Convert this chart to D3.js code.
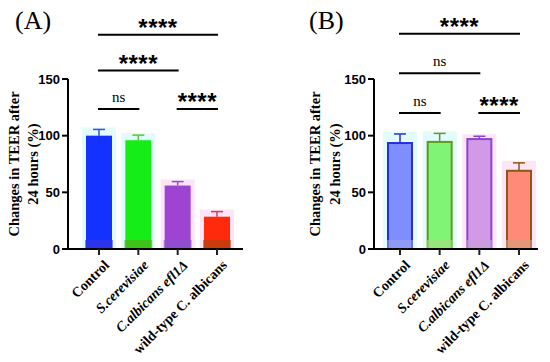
<!DOCTYPE html>
<html>
<head>
<meta charset="utf-8">
<script src="https://cdn.jsdelivr.net/npm/d3@7"></script>
<style>
  html, body { margin: 0; padding: 0; background: #fff; }
  svg { display: block; }
</style>
</head>
<body>
<div id="chart"></div>
<script>
// categories shared by both panels
var categories = ["Control", "S.cerevisiae", "C.albicans efl1\u0394", "wild-type C. albicans"];
var categoryItalic = [false, true, true, false];

// panel A: TEER change, mean and upper error (%)
var meanA = [100, 96, 56, 28.5];
var errA = [105.5, 100.5, 59.5, 33];
// panel B
var meanB = [93.5, 94.5, 97, 69];
var errB = [101.5, 102, 99.5, 76];

var yTicks = [0, 50, 100, 150];

// significance brackets: [from, to, level (axis units), label]
var sigA = [[0, 3, 189, "****"], [0, 2, 157.5, "****"], [0, 1, 123.5, "ns"], [2, 3, 123.5, "****"]];
var sigB = [[0, 3, 190, "****"], [0, 2, 155, "ns"], [0, 1, 120, "ns"], [2, 3, 120, "****"]];

var W = 550, H = 362;
var svg = d3.select("#chart").append("svg").attr("width", W).attr("height", H);

var serif = "'Liberation Serif', 'Times New Roman', serif";
var sans = "'Liberation Sans', Arial, sans-serif";

function panel(opt) {
    var g = svg.append("g");
    var y = d3.scaleLinear().domain([0, 150]).range([249, 79]);
    var x = d3.scalePoint().domain(d3.range(categories.length)).range(opt.xr);

    // panel letter
    g.append("text")
        .attr("x", opt.letterX).attr("y", 29)
        .style("font-family", serif).style("font-size", "26px")
        .text(opt.letter);

    // y label
    var ly = g.append("text")
        .attr("transform", "translate(" + opt.labelX + ",164) rotate(-90)")
        .attr("text-anchor", "middle")
        .style("font-family", serif).style("font-size", "14.5px").style("font-weight", "bold");
    ly.append("tspan").attr("x", 0).attr("dy", 0).text("Changes in TEER after");
    ly.append("tspan").attr("x", 0).attr("dy", 19.5).text("24 hours (%)");

    // halos behind bars
    g.selectAll("rect.halo").data(opt.mean).enter().append("rect")
        .attr("x", function (d, i) { return x(i) - 17; })
        .attr("width", 34)
        .attr("y", function (d, i) { return y(opt.err[i]) - 2; })
        .attr("height", function (d, i) { return y(0) - y(opt.err[i]) + 2; })
        .attr("fill", function (d, i) { return i < 2 ? "#e2fbfd" : "#fde4f7"; });

    var bw = opt.bw;
    // error whiskers
    g.selectAll("line.err").data(opt.mean).enter().append("line")
        .attr("x1", function (d, i) { return x(i); })
        .attr("x2", function (d, i) { return x(i); })
        .attr("y1", function (d) { return y(d); })
        .attr("y2", function (d, i) { return y(opt.err[i]); })
        .attr("stroke", function (d, i) { return opt.stroke[i]; })
        .attr("stroke-width", 1.5);
    g.selectAll("line.cap").data(opt.mean).enter().append("line")
        .attr("x1", function (d, i) { return x(i) - 6; })
        .attr("x2", function (d, i) { return x(i) + 6; })
        .attr("y1", function (d, i) { return y(opt.err[i]); })
        .attr("y2", function (d, i) { return y(opt.err[i]); })
        .attr("stroke", function (d, i) { return opt.stroke[i]; })
        .attr("stroke-width", 1.5);

    // bars
    g.selectAll("rect.bar").data(opt.mean).enter().append("rect")
        .attr("x", function (d, i) { return x(i) - bw / 2; })
        .attr("width", bw)
        .attr("y", function (d) { return y(d); })
        .attr("height", function (d) { return y(0) - y(d); })
        .attr("fill", function (d, i) { return opt.fill[i]; })
        .attr("stroke", function (d, i) { return opt.stroke[i]; })
        .attr("stroke-width", opt.sw);
    // bottom band
    g.selectAll("rect.band").data(opt.mean).enter().append("rect")
        .attr("x", function (d, i) { return x(i) - bw / 2 - 1; })
        .attr("width", bw + 2)
        .attr("y", y(0) - 9)
        .attr("height", 9)
        .attr("fill", function (d, i) { return opt.band[i]; })
        .attr("opacity", 0.6);

    // axes
    g.append("line").attr("x1", opt.ax0).attr("x2", opt.ax0).attr("y1", y(150)).attr("y2", y(0) + 1)
        .attr("stroke", "#000").attr("stroke-width", 2);
    g.append("line").attr("x1", opt.ax0 - 1).attr("x2", opt.ax1).attr("y1", y(0)).attr("y2", y(0))
        .attr("stroke", "#000").attr("stroke-width", 2);
    g.selectAll("line.yt").data(yTicks).enter().append("line")
        .attr("x1", opt.ax0 - 6).attr("x2", opt.ax0)
        .attr("y1", function (d) { return y(d); }).attr("y2", function (d) { return y(d); })
        .attr("stroke", "#000").attr("stroke-width", 2);
    g.selectAll("text.yt").data(yTicks).enter().append("text")
        .attr("x", opt.ax0 - 8).attr("y", function (d) { return y(d); })
        .attr("dy", "0.36em").attr("text-anchor", "end")
        .style("font-family", sans).style("font-size", "13px").style("font-weight", "bold")
        .text(function (d) { return d; });
    g.selectAll("line.xt").data(categories).enter().append("line")
        .attr("x1", function (d, i) { return x(i); }).attr("x2", function (d, i) { return x(i); })
        .attr("y1", y(0)).attr("y2", y(0) + 6)
        .attr("stroke", "#222").attr("stroke-width", 2);
    g.selectAll("text.xt").data(categories).enter().append("text")
        .attr("transform", function (d, i) { return "translate(" + (x(i) + 4) + "," + (y(0) + 10) + ") rotate(-45)"; })
        .attr("text-anchor", "end").attr("dy", "0.7em")
        .style("font-family", serif).style("font-size", "14px").style("font-weight", "bold")
        .style("font-style", function (d, i) { return categoryItalic[i] ? "italic" : "normal"; })
        .text(function (d) { return d; });

    // significance brackets
    opt.sig.forEach(function (s) {
        var ly2 = y(s[2]);
        g.append("line").attr("x1", x(s[0]) - 1).attr("x2", x(s[1]) + 1)
            .attr("y1", ly2).attr("y2", ly2)
            .attr("stroke", "#000").attr("stroke-width", 2);
        var t = g.append("text")
            .attr("x", (x(s[0]) + x(s[1])) / 2)
            .attr("text-anchor", "middle");
        if (s[3] === "ns") {
            t.attr("y", ly2 - 7).style("font-family", serif).style("font-size", "15px");
        } else {
            t.attr("y", ly2 + 1).style("font-family", sans).style("font-size", "24px")
                .style("font-weight", "bold").style("letter-spacing", "0.5px");
        }
        t.text(s[3]);
    });
}

panel({
    letter: "(A)", letterX: 15, labelX: 18.5,
    xr: [99, 217], ax0: 68, ax1: 243, bw: 26, sw: 0,
    mean: meanA, err: errA, sig: sigA,
    fill: ["#1432ff", "#16ec16", "#9e44d2", "#ff2a0c"],
    stroke: ["#2f4fe6", "#55c830", "#9a48d0", "#e0364a"],
    band: ["#3a36dc", "#5aa820", "#8a52cc", "#a84810"]
});

panel({
    letter: "(B)", letterX: 309, labelX: 320,
    xr: [400, 519], ax0: 374, ax1: 538, bw: 24, sw: 2,
    mean: meanB, err: errB, sig: sigB,
    fill: ["#7f8eff", "#80f474", "#d09ae6", "#ff8a78"],
    stroke: ["#2a2ed8", "#5e9a1c", "#8a46d2", "#8a5a14"],
    band: ["#9aa0f0", "#a6dc84", "#c8a0d8", "#d4a07c"]
});
</script>
</body>
</html>
